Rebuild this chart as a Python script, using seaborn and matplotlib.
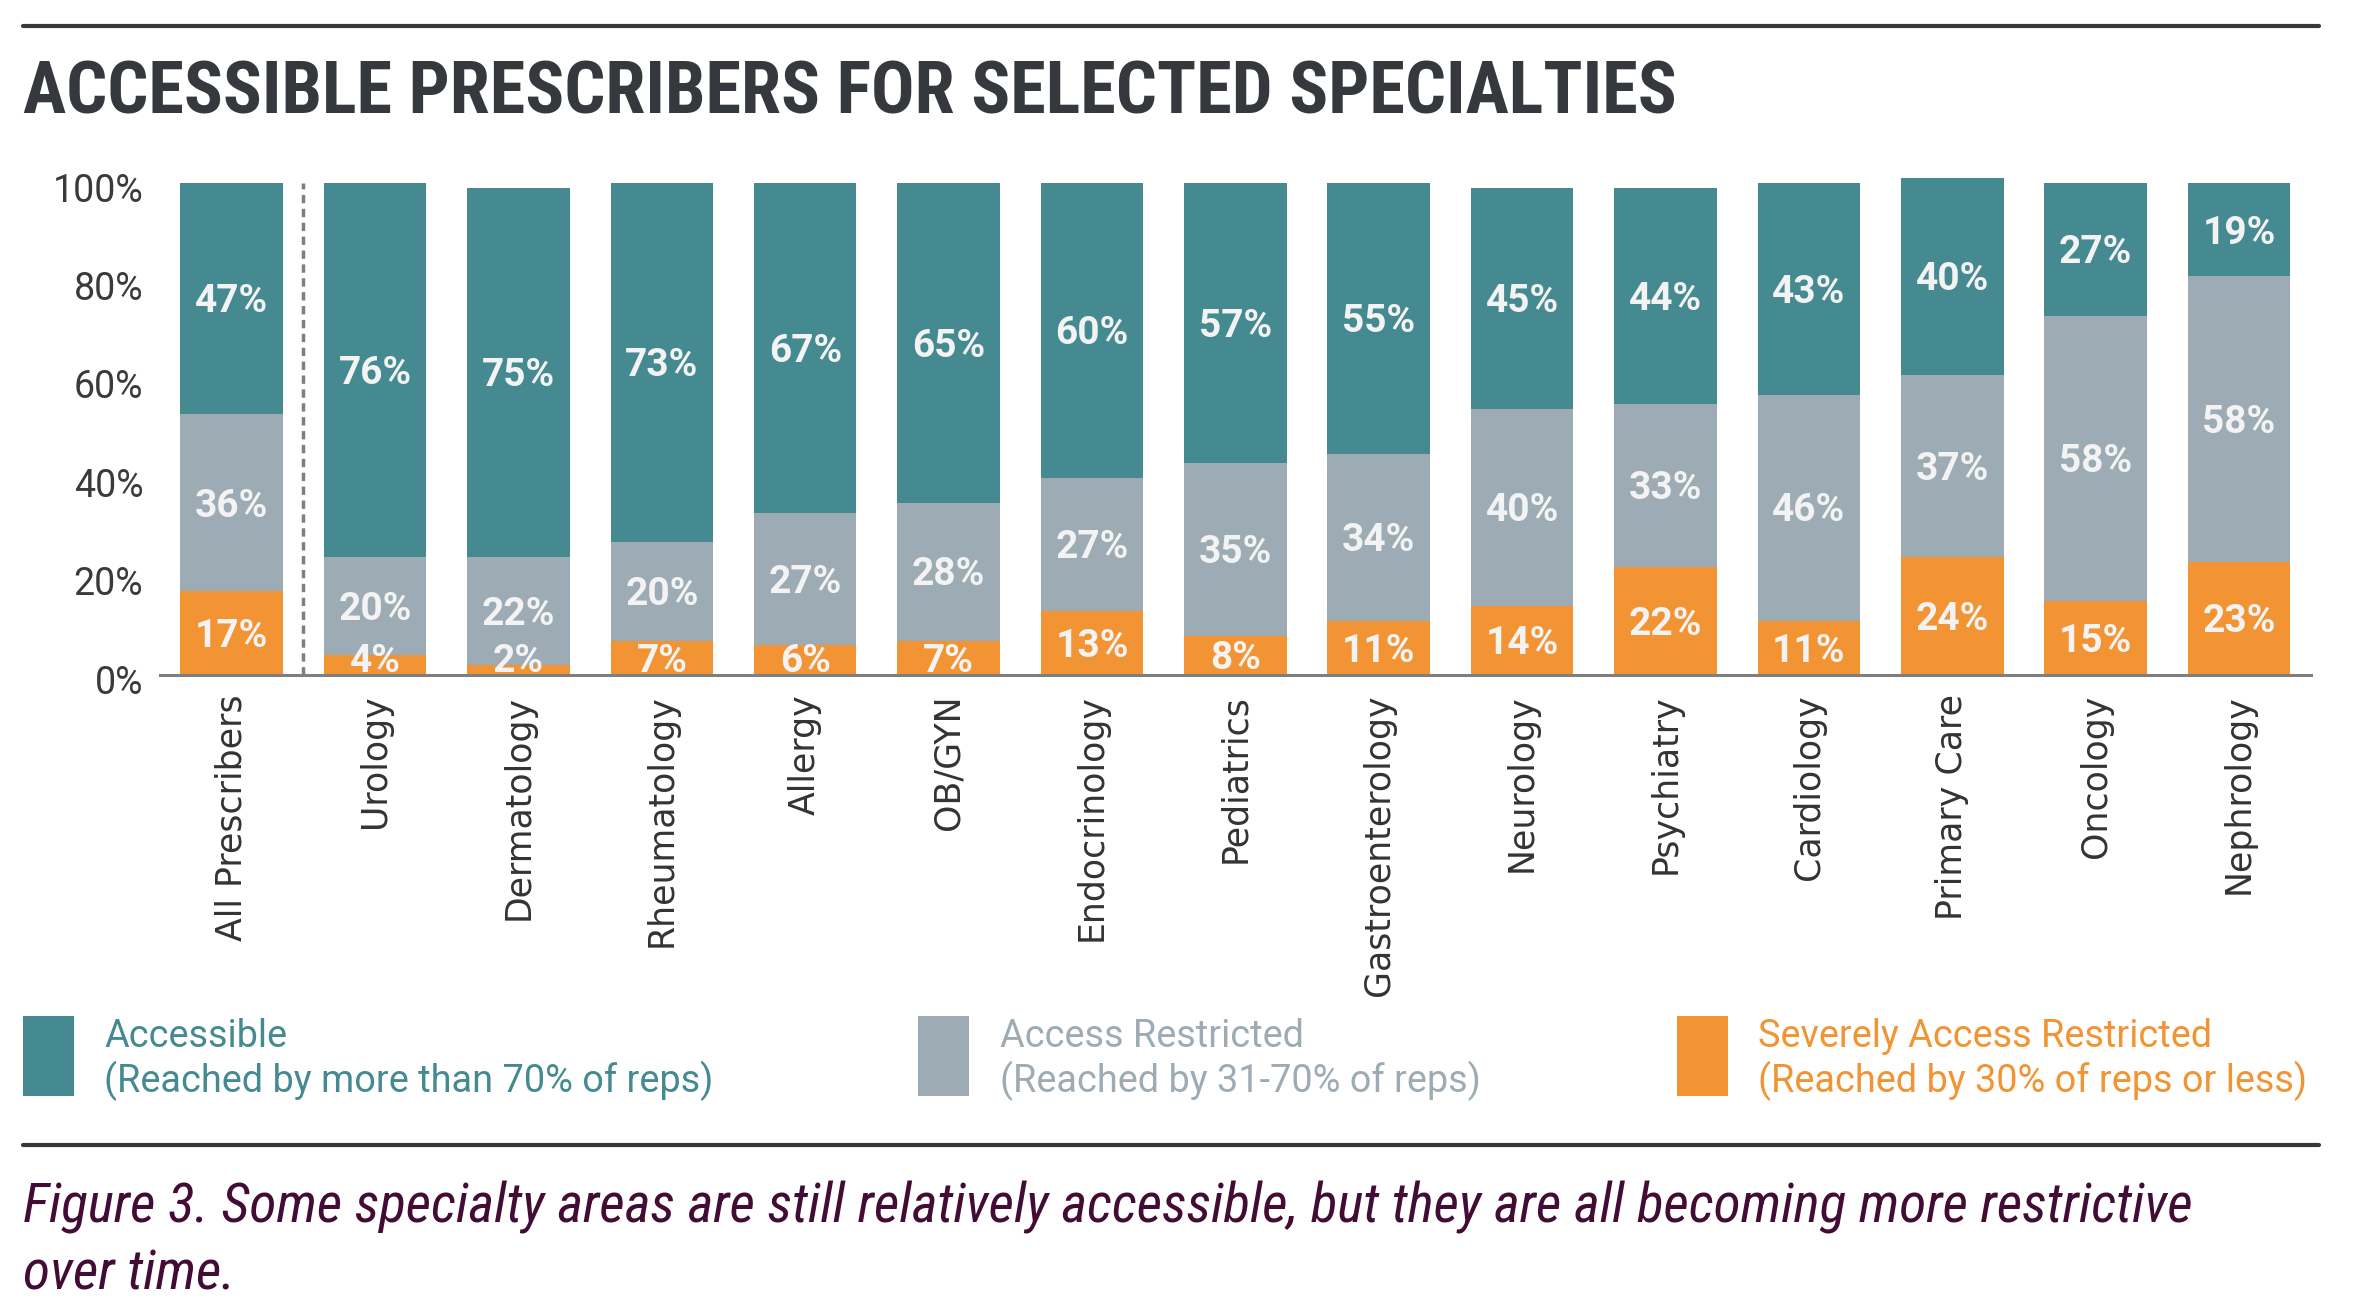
import matplotlib
matplotlib.use("Agg")
import matplotlib.pyplot as plt
import matplotlib.transforms as mtransforms
from matplotlib.lines import Line2D
from matplotlib.patches import Rectangle
import seaborn as sns
import numpy as np
import pandas as pd

# ---------------- data ----------------
categories = ["All Prescribers", "Urology", "Dermatology", "Rheumatology", "Allergy",
              "OB/GYN", "Endocrinology", "Pediatrics", "Gastroenterology", "Neurology",
              "Psychiatry", "Cardiology", "Primary Care", "Oncology", "Nephrology"]
accessible = [47, 76, 75, 73, 67, 65, 60, 57, 55, 45, 44, 43, 40, 27, 19]
restricted = [36, 20, 22, 20, 27, 28, 27, 35, 34, 40, 33, 46, 37, 58, 58]
severe = [17, 4, 2, 7, 6, 7, 13, 8, 11, 14, 22, 11, 24, 15, 23]
y_ticks = [0, 20, 40, 60, 80, 100]
y_tick_labels = ["0%", "20%", "40%", "60%", "80%", "100%"]
title = "ACCESSIBLE PRESCRIBERS FOR SELECTED SPECIALTIES"
legend_titles = ["Accessible", "Access Restricted", "Severely Access Restricted"]
legend_subs = ["(Reached by more than 70% of reps)", "(Reached by 31-70% of reps)",
               "(Reached by 30% of reps or less)"]
caption_lines = ["Figure 3. Some specialty areas are still relatively accessible, but they are all becoming more restrictive",
                 "over time."]

TEAL = "#468a91"
GRAY = "#9dacb4"
ORANGE = "#f29433"
AXIS = "#7f7f7f"
DARK = "#35383d"
LABEL = "#f3f3f3"
CAPTION = "#430c35"

sns.set_theme(style="white")
plt.rcParams["font.family"] = ["DejaVu Sans"]

df = pd.DataFrame({"category": categories, "accessible": accessible,
                   "restricted": restricted, "severe": severe})
df["top"] = df["accessible"] + df["restricted"] + df["severe"]
df["mid"] = df["restricted"] + df["severe"]

W, H = 2364, 1306
fig = plt.figure(figsize=(W / 100, H / 100), dpi=100)
fig.patch.set_facecolor("white")

YMAX = 102
px_per = 4.92
ax = fig.add_axes([160 / W, 1 - 675 / H, (2310.7 - 160) / W, YMAX * px_per / H])
ax.set_facecolor("white")

bw = 0.715
sns.barplot(data=df, x="category", y="top", color=TEAL, width=bw, saturation=1,
            linewidth=0, ax=ax)
sns.barplot(data=df, x="category", y="mid", color=GRAY, width=bw, saturation=1,
            linewidth=0, ax=ax)
sns.barplot(data=df, x="category", y="severe", color=ORANGE, width=bw, saturation=1,
            linewidth=0, ax=ax)

ax.set_xlim(-0.5, len(categories) - 0.5)
ax.set_ylim(0, YMAX)

# segment labels
half = 2.8
for i in range(len(categories)):
    segs = [(severe[i], 0), (restricted[i], severe[i]),
            (accessible[i], severe[i] + restricted[i])]
    for val, base in segs:
        yc = max(base + val / 2, 3.4)
        ax.text(i, yc - half, f"{val}%", ha="center", va="baseline",
                fontsize=28, fontweight="bold", family="Roboto", color=LABEL)

# separator
ax.plot([0.5, 0.5], [0, 100], ls=(0, (2.4, 1.6)), lw=2.5, color=AXIS, clip_on=False)

# axes styling
for s in ["left", "right", "top"]:
    ax.spines[s].set_visible(False)
ax.spines["bottom"].set_color(AXIS)
ax.spines["bottom"].set_linewidth(2.2)
ax.set_xticks(range(len(categories)))
ax.set_xticklabels(categories, rotation=90, fontsize=25, color="#333333",
                   ha="center", va="top")
ax.set_xticks(np.arange(-0.5, len(categories), 1), minor=True)
ax.tick_params(axis="x", which="major", length=0, pad=14)
ax.tick_params(axis="x", which="minor", length=12.5, width=2.2, color=AXIS, direction="out")
ax.set_yticks(y_ticks)
ax.set_yticklabels(y_tick_labels, fontsize=27, family="Roboto", color="#3a3a3a")
ax.tick_params(axis="y", length=0, pad=12)
off = mtransforms.ScaledTranslation(0, -4 / 100, fig.dpi_scale_trans)
for lbl in ax.get_yticklabels():
    lbl.set_transform(lbl.get_transform() + off)
ax.set_xlabel("")
ax.set_ylabel("")
ax.grid(False)

# title and rules
fig.add_artist(Line2D([23 / W, 2319 / W], [1 - 26 / H, 1 - 26 / H], color=DARK, lw=3))
fig.text(23 / W, 1 - 113 / H, title, fontsize=52, fontweight="bold",
         family="Roboto Condensed", color=DARK, ha="left", va="baseline")
fig.add_artist(Line2D([23 / W, 2319 / W], [1 - 1145 / H, 1 - 1145 / H], color=DARK, lw=3))

# legend
sq_x = [23, 918, 1677]
tx_x = [104, 1000, 1758]
cols = [TEAL, GRAY, ORANGE]
for k in range(3):
    fig.add_artist(Rectangle((sq_x[k] / W, 1 - 1096 / H), 51 / W, 80 / H,
                             transform=fig.transFigure, color=cols[k], lw=0))
    fig.text(tx_x[k] / W, 1 - 1047 / H, legend_titles[k], fontsize=27.3, family="Roboto",
             color=cols[k], ha="left", va="baseline")
    fig.text(tx_x[k] / W, 1 - 1092 / H, legend_subs[k], fontsize=27.3, family="Roboto",
             color=cols[k], ha="left", va="baseline")

# caption
fig.text(23 / W, 1 - 1223 / H, caption_lines[0], fontsize=40, family="Roboto Condensed",
         style="italic", color=CAPTION, ha="left", va="baseline")
fig.text(23 / W, 1 - 1289 / H, caption_lines[1], fontsize=40, family="Roboto Condensed",
         style="italic", color=CAPTION, ha="left", va="baseline")

fig.savefig("out.png", dpi=100, facecolor="white")
